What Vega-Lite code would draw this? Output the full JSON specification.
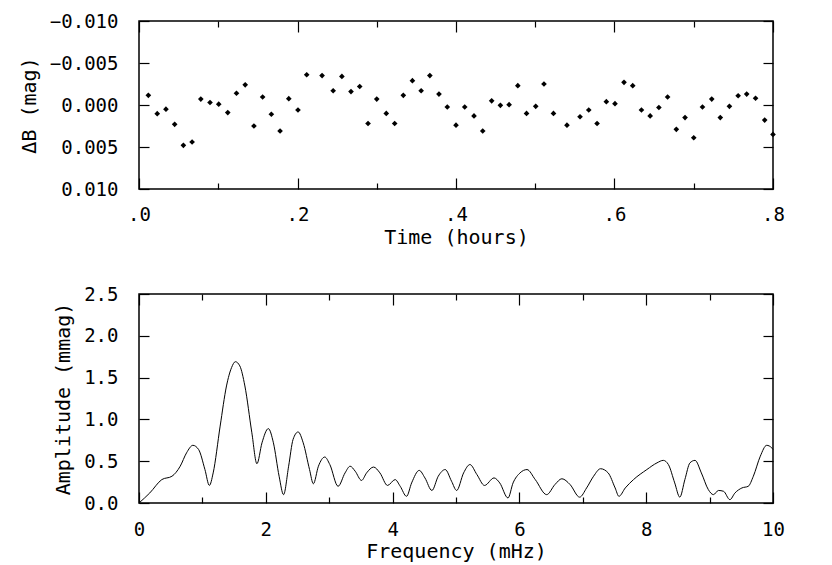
{
  "$schema": "https://vega.github.io/schema/vega-lite/v6.json",
  "padding": {"left": 18, "top": 11, "right": 5, "bottom": 5},
  "background": "white",
  "datasets": {
    "pts": [
      {"t": 0.0118, "v": -0.00115}, {"t": 0.023, "v": 0.00103}, {"t": 0.034, "v": 0.0005}, {"t": 0.045, "v": 0.0023},
      {"t": 0.056, "v": 0.0048}, {"t": 0.067, "v": 0.0044}, {"t": 0.078, "v": -0.0007}, {"t": 0.0896, "v": -0.0003},
      {"t": 0.1006, "v": -0.0001}, {"t": 0.112, "v": 0.0009}, {"t": 0.123, "v": -0.0014}, {"t": 0.134, "v": -0.0024},
      {"t": 0.145, "v": 0.0025}, {"t": 0.156, "v": -0.00095}, {"t": 0.167, "v": 0.0011}, {"t": 0.178, "v": 0.0031},
      {"t": 0.189, "v": -0.00075}, {"t": 0.2006, "v": 0.0006}, {"t": 0.2116, "v": -0.0036}, {"t": 0.231, "v": -0.0035},
      {"t": 0.245, "v": -0.0017}, {"t": 0.256, "v": -0.0034}, {"t": 0.2675, "v": -0.0016}, {"t": 0.2785, "v": -0.0022},
      {"t": 0.289, "v": 0.0022}, {"t": 0.3, "v": -0.0007}, {"t": 0.312, "v": 0.001}, {"t": 0.3226, "v": 0.0022},
      {"t": 0.3335, "v": -0.00115}, {"t": 0.345, "v": -0.0029}, {"t": 0.356, "v": -0.0017}, {"t": 0.367, "v": -0.0035},
      {"t": 0.3785, "v": -0.0013}, {"t": 0.389, "v": 0.00024}, {"t": 0.4, "v": 0.0024}, {"t": 0.411, "v": 0.00024},
      {"t": 0.4227, "v": 0.0013}, {"t": 0.4337, "v": 0.0031}, {"t": 0.445, "v": -0.0005}, {"t": 0.456, "v": 0.00004},
      {"t": 0.467, "v": -0.00004}, {"t": 0.478, "v": -0.0023}, {"t": 0.489, "v": 0.001}, {"t": 0.5006, "v": 0.00016},
      {"t": 0.511, "v": -0.0025}, {"t": 0.523, "v": 0.001}, {"t": 0.54, "v": 0.0024}, {"t": 0.5565, "v": 0.0014},
      {"t": 0.5675, "v": 0.0006}, {"t": 0.578, "v": 0.0022}, {"t": 0.5897, "v": -0.0004}, {"t": 0.6006, "v": -0.00016},
      {"t": 0.612, "v": -0.0027}, {"t": 0.623, "v": -0.0023}, {"t": 0.634, "v": 0.0006}, {"t": 0.645, "v": 0.0013},
      {"t": 0.656, "v": 0.0003}, {"t": 0.667, "v": -0.00095}, {"t": 0.678, "v": 0.0029}, {"t": 0.689, "v": 0.0015},
      {"t": 0.7, "v": 0.0039}, {"t": 0.711, "v": 0.00024}, {"t": 0.7227, "v": -0.0007}, {"t": 0.7335, "v": 0.0015},
      {"t": 0.745, "v": 0.00016}, {"t": 0.756, "v": -0.0011}, {"t": 0.7668, "v": -0.0013}, {"t": 0.778, "v": -0.0008},
      {"t": 0.7895, "v": 0.0018}, {"t": 0.8, "v": 0.0035}
    ],
    "spec": [
      {"f": 0.0, "a": 0.0}, {"f": 0.17, "a": 0.12}, {"f": 0.36, "a": 0.28}, {"f": 0.52, "a": 0.32}, {"f": 0.65, "a": 0.44},
      {"f": 0.75, "a": 0.6}, {"f": 0.85, "a": 0.69}, {"f": 0.94, "a": 0.64}, {"f": 1.04, "a": 0.4}, {"f": 1.11, "a": 0.21},
      {"f": 1.17, "a": 0.36}, {"f": 1.28, "a": 0.92}, {"f": 1.38, "a": 1.4}, {"f": 1.46, "a": 1.62}, {"f": 1.52, "a": 1.69},
      {"f": 1.59, "a": 1.64}, {"f": 1.67, "a": 1.4}, {"f": 1.78, "a": 0.84}, {"f": 1.86, "a": 0.47}, {"f": 1.94, "a": 0.72},
      {"f": 2.04, "a": 0.89}, {"f": 2.12, "a": 0.72}, {"f": 2.21, "a": 0.32}, {"f": 2.28, "a": 0.1}, {"f": 2.36, "a": 0.44},
      {"f": 2.43, "a": 0.76}, {"f": 2.51, "a": 0.85}, {"f": 2.59, "a": 0.72}, {"f": 2.69, "a": 0.4}, {"f": 2.75, "a": 0.23},
      {"f": 2.83, "a": 0.44}, {"f": 2.93, "a": 0.55}, {"f": 3.01, "a": 0.46}, {"f": 3.14, "a": 0.2}, {"f": 3.25, "a": 0.36},
      {"f": 3.33, "a": 0.44}, {"f": 3.41, "a": 0.38}, {"f": 3.51, "a": 0.27}, {"f": 3.59, "a": 0.36}, {"f": 3.7, "a": 0.43},
      {"f": 3.8, "a": 0.36}, {"f": 3.92, "a": 0.21}, {"f": 4.04, "a": 0.28}, {"f": 4.12, "a": 0.2}, {"f": 4.22, "a": 0.08},
      {"f": 4.3, "a": 0.24}, {"f": 4.42, "a": 0.39}, {"f": 4.51, "a": 0.3}, {"f": 4.62, "a": 0.15}, {"f": 4.72, "a": 0.32},
      {"f": 4.83, "a": 0.4}, {"f": 4.93, "a": 0.26}, {"f": 5.01, "a": 0.15}, {"f": 5.12, "a": 0.36}, {"f": 5.22, "a": 0.46},
      {"f": 5.33, "a": 0.34}, {"f": 5.45, "a": 0.21}, {"f": 5.6, "a": 0.3}, {"f": 5.69, "a": 0.24}, {"f": 5.82, "a": 0.06},
      {"f": 5.9, "a": 0.24}, {"f": 6.01, "a": 0.36}, {"f": 6.12, "a": 0.4}, {"f": 6.25, "a": 0.28}, {"f": 6.43, "a": 0.1},
      {"f": 6.56, "a": 0.22}, {"f": 6.67, "a": 0.29}, {"f": 6.8, "a": 0.22}, {"f": 6.95, "a": 0.07}, {"f": 7.06, "a": 0.18},
      {"f": 7.17, "a": 0.32}, {"f": 7.28, "a": 0.41}, {"f": 7.4, "a": 0.36}, {"f": 7.51, "a": 0.18}, {"f": 7.57, "a": 0.08},
      {"f": 7.67, "a": 0.18}, {"f": 7.8, "a": 0.28}, {"f": 8.01, "a": 0.4}, {"f": 8.17, "a": 0.48}, {"f": 8.27, "a": 0.51},
      {"f": 8.35, "a": 0.46}, {"f": 8.45, "a": 0.24}, {"f": 8.53, "a": 0.07}, {"f": 8.61, "a": 0.28}, {"f": 8.69, "a": 0.48},
      {"f": 8.77, "a": 0.51}, {"f": 8.87, "a": 0.36}, {"f": 8.98, "a": 0.16}, {"f": 9.06, "a": 0.1}, {"f": 9.14, "a": 0.15},
      {"f": 9.22, "a": 0.14}, {"f": 9.32, "a": 0.04}, {"f": 9.4, "a": 0.12}, {"f": 9.51, "a": 0.18}, {"f": 9.61, "a": 0.2},
      {"f": 9.69, "a": 0.32}, {"f": 9.8, "a": 0.56}, {"f": 9.9, "a": 0.69}, {"f": 9.98, "a": 0.66}, {"f": 10.0, "a": 0.64}
    ]
  },
  "spacing": 36,
  "vconcat": [
    {
      "width": 634,
      "height": 168,
      "data": {"name": "pts"},
      "resolve": {"axis": {"x": "independent", "y": "independent"}},
      "layer": [
        {
          "mark": {"type": "point", "shape": "diamond", "filled": true, "color": "black", "size": 32, "opacity": 1},
          "encoding": {
            "x": {"field": "t", "type": "quantitative", "scale": {"domain": [0, 0.8], "nice": false, "zero": false},
              "axis": {"orient": "bottom", "values": [0, 0.2, 0.4, 0.6, 0.8], "tickSize": -11, "labelPadding": 27,
                "labelExpr": "replace(format(datum.value, '.1f'), '0.', '.')", "title": "Time (hours)", "titlePadding": 3, "labelFlush": false}},
            "y": {"field": "v", "type": "quantitative", "scale": {"domain": [-0.01, 0.01], "reverse": true, "nice": false, "zero": false},
              "axis": {"orient": "left", "values": [-0.01, -0.005, 0, 0.005, 0.01], "format": ".3f", "tickSize": -10, "labelPadding": 31,
                "title": "ΔB (mag)", "titlePadding": 10}}
          }
        },
        {
          "mark": {"type": "point", "opacity": 0},
          "encoding": {
            "x": {"field": "t", "type": "quantitative",
              "axis": {"orient": "top", "values": [0, 0.2, 0.4, 0.6, 0.8], "tickSize": -11, "labels": false, "title": null}},
            "y": {"field": "v", "type": "quantitative",
              "axis": {"orient": "right", "values": [-0.01, -0.005, 0, 0.005, 0.01], "tickSize": -10, "labels": false, "title": null}}
          }
        },
        {
          "mark": {"type": "point", "opacity": 0},
          "encoding": {
            "x": {"field": "t", "type": "quantitative",
              "axis": {"orient": "bottom", "values": [0.1, 0.3, 0.5, 0.7], "tickSize": -6, "labels": false, "title": null}},
            "y": {"field": "v", "type": "quantitative", "axis": null}
          }
        },
        {
          "mark": {"type": "point", "opacity": 0},
          "encoding": {
            "x": {"field": "t", "type": "quantitative",
              "axis": {"orient": "top", "values": [0.1, 0.3, 0.5, 0.7], "tickSize": -6, "labels": false, "title": null}},
            "y": {"field": "v", "type": "quantitative", "axis": null}
          }
        }
      ]
    },
    {
      "width": 634,
      "height": 209,
      "data": {"name": "spec"},
      "resolve": {"axis": {"x": "independent", "y": "independent"}},
      "layer": [
        {
          "mark": {"type": "line", "color": "black", "strokeWidth": 1, "interpolate": "monotone"},
          "encoding": {
            "x": {"field": "f", "type": "quantitative", "scale": {"domain": [0, 10], "nice": false},
              "axis": {"orient": "bottom", "values": [0, 2, 4, 6, 8, 10], "tickSize": -11, "labelPadding": 28, "format": "d",
                "title": "Frequency (mHz)", "titlePadding": 2, "labelFlush": false}},
            "y": {"field": "a", "type": "quantitative", "scale": {"domain": [0, 2.5], "nice": false},
              "axis": {"orient": "left", "values": [0, 0.5, 1, 1.5, 2, 2.5], "format": ".1f", "tickSize": -10, "labelPadding": 31,
                "title": "Amplitude (mmag)", "titlePadding": 10}}
          }
        },
        {
          "mark": {"type": "point", "opacity": 0},
          "encoding": {
            "x": {"field": "f", "type": "quantitative",
              "axis": {"orient": "top", "values": [0, 2, 4, 6, 8, 10], "tickSize": -11, "labels": false, "title": null}},
            "y": {"field": "a", "type": "quantitative",
              "axis": {"orient": "right", "values": [0, 0.5, 1, 1.5, 2, 2.5], "tickSize": -10, "labels": false, "title": null}}
          }
        },
        {
          "mark": {"type": "point", "opacity": 0},
          "encoding": {
            "x": {"field": "f", "type": "quantitative",
              "axis": {"orient": "bottom", "values": [1, 3, 5, 7, 9], "tickSize": -6, "labels": false, "title": null}},
            "y": {"field": "a", "type": "quantitative", "axis": null}
          }
        },
        {
          "mark": {"type": "point", "opacity": 0},
          "encoding": {
            "x": {"field": "f", "type": "quantitative",
              "axis": {"orient": "top", "values": [1, 3, 5, 7, 9], "tickSize": -6, "labels": false, "title": null}},
            "y": {"field": "a", "type": "quantitative", "axis": null}
          }
        }
      ]
    }
  ],
  "config": {
    "view": {"stroke": "black", "strokeWidth": 1.5},
    "axis": {
      "domain": false, "grid": false,
      "labelFont": "DejaVu Sans Mono", "titleFont": "DejaVu Sans Mono",
      "labelFontSize": 19, "titleFontSize": 20, "titleFontWeight": "normal",
      "labelColor": "black", "titleColor": "black", "tickColor": "black", "tickWidth": 1.2
    }
  }
}
